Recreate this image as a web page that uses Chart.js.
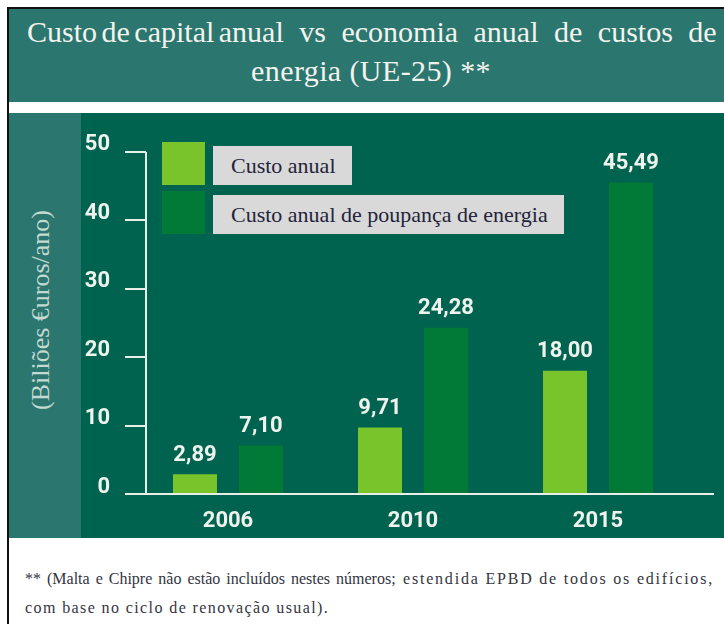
<!DOCTYPE html>
<html>
<head>
<meta charset="utf-8">
<script src="https://cdn.jsdelivr.net/npm/chart.js@4.4.1/dist/chart.umd.min.js"></script>
<style>
  html, body { margin: 0; padding: 0; background: #fff; overflow: hidden; }
  body { width: 724px; height: 624px; position: relative; font-family: "Liberation Serif", "Times New Roman", serif; }
  .frame { position: absolute; left: 7px; top: 7px; width: 740px; height: 640px; border-top: 2px solid #111; border-left: 2px solid #111; }
  .titleband { position: absolute; left: 9px; top: 9px; width: 715px; height: 93px; background: #2b766f; }
  .chartband { position: absolute; left: 9px; top: 113px; width: 715px; height: 425px; background: #00634f; }
  .strip { position: absolute; left: 9px; top: 113px; width: 72px; height: 425px; background: #2b766f; }
  .title1 { position: absolute; left: 27px; top: 12px; font-size: 30px; line-height: 39px; color: #f3f3ee; white-space: nowrap; }
  .title1 .a { word-spacing: -3px; }
  .title1 .b { word-spacing: 8px; }
  .title2 { position: absolute; left: 9px; top: 51px; width: 724px; font-size: 30px; line-height: 39px; color: #f3f3ee; text-align: center; letter-spacing: 0.4px; }
  .ytitle { position: absolute; left: 41px; top: 310px; transform: translate(-50%, -50%) rotate(-90deg); font-size: 26px; color: #c3d9d1; white-space: nowrap; }
  .note { position: absolute; font-size: 16px; line-height: 29px; color: #343440; white-space: nowrap; }
  .note1a { left: 25px; top: 564px; word-spacing: 2px; }
  .note1b { right: 10px; top: 564px; letter-spacing: 1.8px; }
  .note2 { left: 25px; top: 593px; letter-spacing: 1.4px; }
  #chart { position: absolute; left: 9px; top: 113px; }
  #legend { position: absolute; left: 162px; top: 142px; }
  .litem { position: relative; height: 43px; margin-bottom: 6px; }
  .lbox { position: absolute; left: 0; top: 0; width: 43px; height: 43px; }
  .ltext { position: absolute; left: 51px; top: 4px; height: 39px; line-height: 39px; padding: 0 16px 0 18px; background: #d9d9d9; color: #24243a; font-size: 22px; white-space: nowrap; }
</style>
</head>
<body>
<div class="frame"></div>
<div class="titleband"></div>
<div class="chartband"></div>
<div class="strip"></div>
<div class="title1"><span class="a">Custo de capital anual</span><span class="b"> vs economia anual de custos de</span></div>
<div class="title2">energia (UE-25) **</div>
<div class="ytitle">(Biliões €uros/ano)</div>
<canvas id="chart" width="715" height="425"></canvas>
<div id="legend"></div>
<div class="note note1a">** (Malta e Chipre não estão incluídos nestes números;</div>
<div class="note note1b">estendida EPBD de todos os edifícios,</div>
<div class="note note2">com base no ciclo de renovação usual).</div>
<script>
const years = ['2006', '2010', '2015'];
const custoAnual = [2.89, 9.71, 18.00];
const custoPoupanca = [7.10, 24.28, 45.49];
const seriesNames = ['Custo anual', 'Custo anual de poupança de energia'];

const lightGreen = '#79c42b';
const darkGreen = '#017a37';
const labelColor = '#eef3ee';
const numFont = { family: 'Roboto', size: 22, weight: 'bold' };

function fmt(v) {
  return v.toFixed(2).replace('.', ',');
}

// white axis: baseline, vertical line and ticks
const axisLines = {
  id: 'axisLines',
  afterDatasetsDraw(chart) {
    const { ctx, chartArea, scales } = chart;
    const y = scales.y;
    const y0 = Math.round(y.getPixelForValue(0));
    const yTop = Math.round(y.getPixelForValue(y.max));
    const xv = Math.round(chartArea.left + 10.5);
    ctx.save();
    ctx.strokeStyle = '#e8eee8';
    ctx.lineWidth = 2;
    ctx.beginPath();
    ctx.moveTo(chartArea.left - 10.5, y0);
    ctx.lineTo(chartArea.right + 23.5, y0);
    ctx.moveTo(xv, yTop);
    ctx.lineTo(xv, y0);
    y.ticks.forEach(t => {
      const py = Math.round(y.getPixelForValue(t.value));
      ctx.moveTo(chartArea.left - 10.5, py);
      ctx.lineTo(xv, py);
    });
    ctx.stroke();
    ctx.restore();
  }
};

// value labels above the bars
const valueLabels = {
  id: 'valueLabels',
  afterDatasetsDraw(chart) {
    const { ctx } = chart;
    ctx.save();
    ctx.fillStyle = labelColor;
    ctx.font = 'bold 22px Roboto';
    ctx.textAlign = 'center';
    ctx.textBaseline = 'middle';
    chart.data.datasets.forEach((ds, i) => {
      chart.getDatasetMeta(i).data.forEach((bar, j) => {
        ctx.fillText(fmt(ds.data[j]), bar.x, bar.y - 19);
      });
    });
    ctx.restore();
  }
};

// html legend with grey label boxes
const htmlLegend = {
  id: 'htmlLegend',
  afterUpdate(chart) {
    const box = document.getElementById('legend');
    box.innerHTML = '';
    chart.data.datasets.forEach(ds => {
      const item = document.createElement('div');
      item.className = 'litem';
      const sw = document.createElement('div');
      sw.className = 'lbox';
      sw.style.background = ds.backgroundColor;
      const tx = document.createElement('div');
      tx.className = 'ltext';
      tx.textContent = ds.label;
      item.appendChild(sw);
      item.appendChild(tx);
      box.appendChild(item);
    });
  }
};

new Chart(document.getElementById('chart'), {
  type: 'bar',
  data: {
    labels: years,
    datasets: [
      { label: seriesNames[0], data: custoAnual, backgroundColor: lightGreen },
      { label: seriesNames[1], data: custoPoupanca, backgroundColor: darkGreen }
    ]
  },
  options: {
    responsive: false,
    animation: false,
    devicePixelRatio: 1,
    categoryPercentage: 0.7135,
    barPercentage: 0.667,
    layout: { padding: { top: 38, right: 33.5, left: 0, bottom: 0 } },
    plugins: {
      legend: { display: false },
      tooltip: { enabled: false }
    },
    scales: {
      x: {
        grid: { display: false, drawTicks: false },
        border: { display: false },
        ticks: { color: labelColor, font: numFont, padding: 14 },
        afterFit(s) { s.height = 44; }
      },
      y: {
        min: 0,
        max: 50,
        grid: { display: false, drawTicks: false },
        border: { display: false },
        ticks: { stepSize: 10, color: labelColor, font: numFont, padding: 25.5, labelOffset: -7 },
        afterFit(s) { s.width = 126.5; }
      }
    }
  },
  plugins: [axisLines, valueLabels, htmlLegend]
});
</script>
</body>
</html>
